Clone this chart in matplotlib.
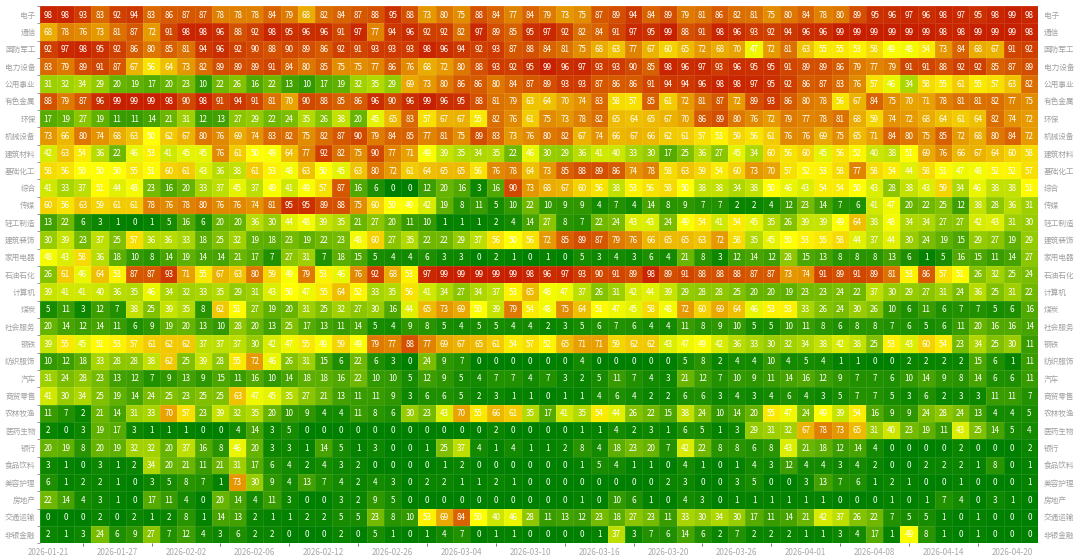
# heatmap of sector ranks by day
import numpy as np
import matplotlib
matplotlib.use('Agg')
import matplotlib.pyplot as plt
from matplotlib.colors import LinearSegmentedColormap

plt.rcParams['font.family'] = ['Noto Sans CJK SC', 'DejaVu Sans']

sectors = ['电子', '通信', '国防军工', '电力设备', '公用事业', '有色金属', '环保', '机械设备', '建筑材料', '基础化工', '综合',
           '传媒', '轻工制造', '建筑装饰', '家用电器', '石油石化', '计算机', '煤炭', '社会服务', '钢铁', '纺织服饰',
           '汽车', '商贸零售', '农林牧渔', '医药生物', '银行', '食品饮料', '美容护理', '房地产', '交通运输', '非银金融']
date_labels = ['2026-01-21', '2026-01-27', '2026-02-02', '2026-02-06', '2026-02-12', '2026-02-26', '2026-03-04', '2026-03-10',
               '2026-03-16', '2026-03-20', '2026-03-26', '2026-04-01', '2026-04-08', '2026-04-14', '2026-04-20']

dianzi = [98,98,93,83,92,94,83,86,87,87,78,78,78,84,79,68,82,84,87,88,95,88,73,80,75,88,84,77,84,79,73,75,87,89,94,84,89,79,81,86,82,81,75,80,84,78,80,89,95,96,97,96,98,97,95,98,99,98]
tongxin = [68,78,76,73,81,87,72,91,98,98,96,88,92,98,95,96,96,91,97,77,94,96,92,92,82,97,89,85,95,97,92,82,84,91,97,95,99,88,91,98,96,93,92,94,96,96,99,99,99,99,99,99,98,98,99,99,99,98]
guofang = [92,97,98,95,92,86,80,85,81,94,96,92,90,88,90,89,86,92,91,93,93,93,98,96,94,92,93,87,88,84,81,75,68,63,77,67,60,65,72,68,70,47,72,81,63,55,55,53,58,49,48,54,73,84,68,67,91,92]
dianli = [83,79,89,91,87,67,56,64,73,82,89,89,89,91,84,80,85,75,75,77,86,76,68,72,80,88,93,92,95,99,96,97,93,93,90,85,98,96,97,93,96,95,95,91,89,89,86,79,77,79,91,91,88,92,92,85,87,89]
gongyong = [31,32,34,29,20,19,17,20,23,10,22,26,16,22,13,10,17,19,32,35,29,69,73,80,86,86,80,84,87,89,93,93,87,86,86,91,94,94,96,98,98,97,95,92,86,87,83,76,57,46,34,58,55,61,55,57,63,82]
youse = [88,79,87,96,99,99,99,98,90,98,91,94,91,81,70,90,88,85,86,96,90,96,99,96,95,88,81,79,63,64,70,74,83,58,57,85,61,72,81,87,72,89,93,86,80,78,56,67,84,75,70,71,78,81,81,82,77,75]
huanbao = [17,19,27,19,11,11,14,21,31,12,13,27,29,22,24,35,26,38,20,45,65,83,57,67,67,55,82,76,61,75,73,78,82,65,64,65,67,70,86,89,80,76,72,79,77,78,81,68,59,74,72,68,64,61,64,82,74,72]
jixie = [73,66,80,74,68,63,50,62,67,80,76,69,74,83,82,75,82,87,90,79,84,85,77,81,75,89,83,73,76,80,82,67,74,66,67,66,62,61,57,53,59,56,61,76,76,69,75,65,71,84,80,75,85,72,68,80,84,72]
jiancai = [42,63,54,36,22,46,53,41,45,45,76,61,50,49,64,77,92,82,75,90,77,71,49,39,35,34,35,22,46,30,29,36,41,40,33,30,17,25,36,27,45,34,60,56,60,45,56,52,40,38,51,69,76,66,67,64,60,58]
huagong = [58,56,50,50,50,55,51,60,61,43,36,38,61,53,48,63,50,45,63,80,72,61,64,65,65,56,76,78,64,73,85,88,89,86,74,78,58,63,59,54,60,73,70,57,52,53,58,77,58,54,44,58,51,47,48,52,52,57]
zonghe = [41,33,37,51,44,48,23,16,20,33,37,45,37,49,41,49,57,87,16,6,0,0,12,20,16,3,16,90,73,68,67,60,56,38,53,56,58,50,38,38,34,38,50,46,43,54,54,50,43,28,38,43,59,34,46,38,38,51]
chuanmei = [60,56,63,59,61,61,78,76,78,80,76,76,74,81,95,95,89,88,75,60,50,49,42,19,8,11,5,10,22,10,9,9,4,7,4,14,8,9,7,7,2,2,4,12,23,14,7,6,41,47,20,22,25,12,38,28,36,31]
qinggong = [13,22,6,3,1,0,1,5,16,6,20,20,36,30,44,48,39,35,21,27,20,11,10,1,1,1,2,4,14,27,8,7,22,24,43,43,24,49,54,41,54,45,35,26,39,39,49,64,38,48,34,34,27,27,42,43,31,30]
jianzhuang = [30,39,23,37,25,57,36,36,33,18,25,32,19,18,23,19,22,23,48,60,27,35,22,22,29,37,56,50,56,72,85,89,87,79,76,66,65,65,63,72,58,35,45,50,53,55,58,44,37,44,30,24,19,15,29,27,19,29]
jiadian = [48,43,58,36,18,10,8,14,19,14,14,21,17,7,27,31,7,18,15,5,4,4,6,3,3,0,2,1,0,1,0,5,3,4,3,6,4,21,8,3,12,14,12,28,15,13,8,8,8,13,6,1,5,16,15,11,14,27]
shiyou = [26,61,46,64,53,87,87,93,71,55,67,63,80,59,49,79,53,46,76,92,68,53,97,99,99,99,99,99,98,96,97,93,90,91,89,98,89,91,88,88,88,87,87,73,74,91,89,91,89,81,53,86,57,51,26,32,25,24]
jisuanji = [39,41,41,40,36,35,46,34,32,33,35,29,31,43,50,47,55,64,52,33,35,56,41,34,27,34,37,53,65,48,47,37,26,31,42,44,39,29,28,28,25,20,20,19,23,23,24,22,37,30,29,27,31,24,36,25,31,22]
meitan = [5,11,3,12,7,38,25,39,35,8,62,51,27,19,20,31,25,32,27,30,16,44,65,73,69,50,39,79,54,48,75,64,51,47,45,58,48,72,60,69,64,46,53,53,33,26,24,30,26,10,6,11,6,7,7,5,6,16]
shehui = [20,14,12,14,11,6,9,19,20,13,10,28,20,13,25,17,13,11,14,5,4,9,8,5,4,5,5,4,4,2,3,5,6,7,6,4,4,11,8,9,10,5,5,10,11,8,6,8,8,7,6,5,6,11,20,16,16,14]
gangtie = [39,55,45,51,53,57,61,62,62,37,37,37,30,42,47,55,49,59,49,79,77,88,77,69,67,65,61,54,57,52,65,71,71,59,62,62,43,47,49,42,36,33,30,32,34,38,42,38,25,53,43,60,54,23,34,25,30,11]
fangzhi = [10,12,18,33,28,28,38,62,25,39,28,55,72,46,26,31,15,6,22,6,3,0,24,9,7,0,0,0,0,0,0,4,0,0,0,0,0,5,8,2,4,4,10,4,5,4,1,1,0,0,2,2,2,2,15,6,1,11]
qiche = [31,24,28,23,13,12,7,9,13,9,15,11,16,10,14,18,18,16,22,10,10,5,12,9,5,4,7,7,4,7,3,2,5,11,7,4,3,21,12,7,10,9,11,14,16,12,9,7,7,6,10,14,9,8,14,6,6,11]
shangmao = [41,30,34,25,19,14,24,25,23,25,25,63,47,45,35,27,21,13,11,11,9,3,6,6,5,2,3,1,1,0,1,1,4,6,4,2,2,6,6,3,4,3,4,6,4,3,5,7,7,5,3,6,2,3,3,11,11,7]
nonglin = [11,7,2,21,14,31,33,70,57,23,39,32,35,20,10,9,4,4,11,8,6,30,23,43,70,55,66,61,35,17,41,35,54,44,26,22,15,38,24,10,14,20,55,47,24,49,39,54,16,9,9,24,28,24,13,4,4,5]
yiyao = [2,0,3,19,17,3,1,1,1,0,0,4,14,3,5,0,0,0,0,0,0,0,0,0,0,0,2,0,0,0,0,1,1,4,2,3,1,6,5,1,3,29,31,32,67,78,73,65,31,40,23,19,11,43,25,14,5,4]
yinhang = [20,19,8,20,19,32,32,20,37,16,8,46,20,3,3,1,14,5,1,3,0,0,1,25,37,4,1,4,1,1,2,8,4,18,23,20,7,42,22,8,8,6,8,43,21,18,12,14,4,0,0,0,0,2,0,0,0,2]
shipin = [3,1,0,3,1,2,34,20,21,11,21,31,17,6,4,2,4,3,2,0,0,0,0,1,2,0,0,0,0,0,0,1,5,4,1,1,0,4,1,0,1,4,3,12,4,4,3,4,2,0,0,2,2,2,1,8,0,1]
meirong = [6,1,2,2,1,0,3,5,8,7,1,73,30,9,4,13,7,4,2,4,3,0,2,2,1,1,2,1,0,0,0,0,0,0,0,0,2,3,0,0,3,5,0,0,3,13,7,6,1,2,1,0,0,1,0,0,0,1]
fangdichan = [22,14,4,3,1,0,17,11,4,0,20,14,4,11,3,0,0,3,2,9,5,0,0,0,0,0,0,0,0,0,0,1,0,10,6,1,0,4,3,0,1,1,1,1,1,1,0,0,0,1,0,1,7,4,0,3,1,0]
jiaotong = [0,0,0,2,0,2,1,2,8,1,14,13,2,1,1,2,2,5,5,23,8,10,53,69,84,50,40,46,28,11,13,12,23,18,27,23,11,33,30,34,30,17,11,14,21,42,37,26,22,7,5,5,1,0,1,0,0,0]
feiyin = [2,1,3,24,6,9,27,7,12,4,3,6,2,2,0,0,0,2,0,5,1,0,1,4,7,0,1,1,0,0,0,0,1,37,3,7,6,14,6,2,7,2,2,2,1,1,3,4,17,1,49,8,1,0,1,0,0,0]

ranks = np.array([dianzi, tongxin, guofang, dianli, gongyong, youse, huanbao, jixie, jiancai, huagong, zonghe,
                  chuanmei, qinggong, jianzhuang, jiadian, shiyou, jisuanji, meitan, shehui, gangtie, fangzhi,
                  qiche, shangmao, nonglin, yiyao, yinhang, shipin, meirong, fangdichan, jiaotong, feiyin])
n_rows, n_cols = ranks.shape

cmap = LinearSegmentedColormap.from_list('gyr', ['#008000', '#ffff00', '#c61c00'])

fig = plt.figure(figsize=(10.8, 5.59), dpi=100)
ax = fig.add_axes([39.7/1080, 1-543.3/559, 998.4/1080, 537.3/559])
ax.pcolormesh(np.arange(n_cols+1)-0.5, np.arange(n_rows+1)-0.5, ranks, cmap=cmap, vmin=0, vmax=100,
              edgecolors=(1, 1, 1, 0.1), linewidth=0.5)
ax.set_xlim(-0.5, n_cols-0.5)
ax.set_ylim(n_rows-0.5, -0.5)

for r in range(n_rows):
    for c in range(n_cols):
        ax.text(c, r+0.02, str(ranks[r, c]), ha='center', va='center', color='white', fontsize=5.8)

# date labels every 4 columns, the tick marks sit between them
ax.set_xticks(range(0, n_cols, 4))
ax.set_xticklabels(date_labels)
ax.set_xticks(range(2, n_cols, 4), minor=True)
ax.tick_params(axis='x', which='major', length=0, pad=3.5, labelsize=5.8, labelcolor='#a8a8a8')
ax.tick_params(axis='x', which='minor', length=2.5, width=0.6, color='#666666')

ax.set_yticks(range(n_rows))
ax.set_yticklabels(sectors)
ax.set_yticks(np.arange(n_rows+1)-0.5, minor=True)
ax.tick_params(axis='y', which='major', length=0, pad=3, labelsize=5.5, labelcolor='#a0a0a0')
ax.tick_params(axis='y', which='minor', length=2.5, width=0.6, color='#888888', left=True, right=True)

for side, spine in ax.spines.items():
    spine.set_visible(False)

# same labels on the right side
ax2 = ax.twinx()
ax2.set_ylim(ax.get_ylim())
ax2.set_yticks(range(n_rows))
ax2.set_yticklabels(sectors)
ax2.tick_params(axis='y', length=0, pad=4, labelsize=5.5, labelcolor='#a0a0a0')
for side, spine in ax2.spines.items():
    spine.set_visible(False)

fig.savefig('out.png', dpi=100)
